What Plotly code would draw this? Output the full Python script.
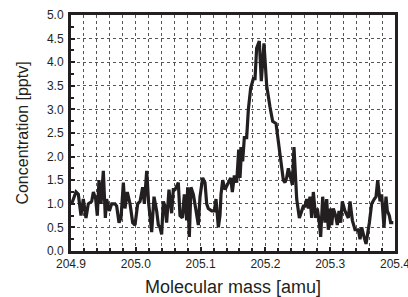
import plotly.graph_objects as go

mass_amu = [
    204.9010, 204.9077, 204.9113, 204.9154, 204.9190, 204.9231, 204.9267, 204.9319, 204.9345, 204.9381,
    204.9406, 204.9432, 204.9463, 204.9499, 204.9530, 204.9550, 204.9592, 204.9628, 204.9679, 204.9705,
    204.9741, 204.9772, 204.9808, 204.9833, 204.9869, 204.9911, 204.9952, 204.9988, 205.0029, 205.0065,
    205.0106, 205.0132, 205.0168, 205.0199, 205.0245, 205.0281, 205.0322, 205.0348, 205.0373, 205.0399,
    205.0425, 205.0451, 205.0476, 205.0512, 205.0553, 205.0579, 205.0605, 205.0656, 205.0682, 205.0718,
    205.0749, 205.0785, 205.0800, 205.0826, 205.0852, 205.0888, 205.0924, 205.0965, 205.0991, 205.1032,
    205.1068, 205.1094, 205.1119, 205.1171, 205.1212, 205.1238, 205.1274, 205.1299, 205.1315, 205.1341,
    205.1377, 205.1428, 205.1464, 205.1490, 205.1521, 205.1557, 205.1588, 205.1608, 205.1634, 205.1649,
    205.1675, 205.1711, 205.1737, 205.1773, 205.1814, 205.1840, 205.1865, 205.1906, 205.1937, 205.1978,
    205.2020, 205.2071, 205.2112, 205.2164, 205.2225, 205.2277, 205.2302, 205.2328, 205.2354, 205.2380,
    205.2416, 205.2441, 205.2483, 205.2524, 205.2560, 205.2585, 205.2611, 205.2637, 205.2663, 205.2688,
    205.2714, 205.2740, 205.2776, 205.2801, 205.2832, 205.2853, 205.2884, 205.2920, 205.2946, 205.2971,
    205.2997, 205.3023, 205.3048, 205.3084, 205.3110, 205.3136, 205.3162, 205.3187, 205.3228, 205.3280,
    205.3306, 205.3342, 205.3383, 205.3434, 205.3460, 205.3486, 205.3522, 205.3553, 205.3604, 205.3640,
    205.3681, 205.3707, 205.3733, 205.3769, 205.3794, 205.3830, 205.3861, 205.3882, 205.3913, 205.3933,
    205.3974,
]

concentration_pptv = [
    1.00, 1.25, 1.20, 0.75, 1.10, 0.70, 1.00, 1.05, 1.25, 1.10,
    0.75, 1.50, 1.00, 1.70, 0.70, 1.10, 0.85, 1.00, 1.00, 0.95,
    0.60, 0.70, 1.45, 0.90, 1.25, 1.00, 0.60, 0.55, 1.00, 1.05,
    1.35, 1.00, 1.70, 1.00, 0.40, 1.15, 0.85, 0.55, 0.50, 0.35,
    1.05, 0.95, 0.60, 1.30, 0.80, 1.30, 1.30, 1.45, 0.75, 0.70,
    1.20, 0.65, 1.35, 0.30, 1.35, 1.20, 0.90, 0.55, 1.15, 1.55,
    1.45, 1.00, 0.90, 0.85, 0.85, 1.10, 0.50, 0.75, 1.20, 1.50,
    1.30, 1.45, 1.55, 1.25, 1.60, 1.45, 2.15, 1.55, 2.20, 1.90,
    2.40, 2.40, 3.00, 3.45, 3.65, 3.65, 4.30, 4.45, 3.60, 4.40,
    3.50, 3.05, 2.75, 2.70, 2.00, 1.50, 1.45, 1.55, 1.75, 1.60,
    1.40, 2.20, 1.10, 0.70, 0.85, 0.95, 0.95, 1.10, 0.90, 1.15,
    0.70, 1.25, 0.70, 0.90, 0.60, 0.30, 1.15, 0.60, 1.10, 0.45,
    0.90, 0.55, 0.90, 0.75, 0.55, 0.85, 0.60, 1.05, 0.85, 0.70,
    1.05, 0.65, 0.45, 0.45, 0.25, 0.50, 0.30, 0.15, 0.60, 1.00,
    1.10, 1.15, 1.50, 1.05, 1.20, 0.50, 1.15, 0.85, 0.75, 0.60,
    0.60,
]

x_tick_vals = [204.9, 205.0, 205.1, 205.2, 205.3, 205.4]
y_tick_vals = [0.0, 0.5, 1.0, 1.5, 2.0, 2.5, 3.0, 3.5, 4.0, 4.5, 5.0]

ink = "#231f20"
grid = "#555555"
font_family = "Liberation Sans, Arial, sans-serif"

fig = go.Figure()
fig.add_trace(go.Scatter(
    x=mass_amu, y=concentration_pptv, mode="lines",
    line=dict(color=ink, width=3.2), showlegend=False, hoverinfo="skip",
))

fig.update_layout(
    width=408, height=297,
    margin=dict(l=71, r=13, t=15, b=46),
    paper_bgcolor="white", plot_bgcolor="white",
    font=dict(family=font_family, color=ink, size=12),
)

fig.update_xaxes(
    range=[204.9, 205.4], tickvals=x_tick_vals, tickformat=".1f",
    automargin=False, ticklabeloverflow="allow",
    showline=True, linecolor=ink, linewidth=3, mirror=True,
    ticks="inside", ticklen=4, tickwidth=2, tickcolor=ink,
    showgrid=True, gridcolor=grid, gridwidth=1, griddash="dot",
    zeroline=False,
    minor=dict(dtick=0.02, tick0=204.9, showgrid=True, gridcolor=grid, gridwidth=1,
               griddash="dot", ticks="inside", ticklen=3, tickwidth=2, tickcolor=ink),
    tickfont=dict(size=12, color=ink),
    title=dict(text="Molecular mass [amu]", font=dict(size=18, color=ink), standoff=10),
)

fig.update_yaxes(
    range=[0, 5], tickvals=y_tick_vals, tickformat=".1f",
    automargin=False, ticklabelstandoff=2,
    showline=True, linecolor=ink, linewidth=3, mirror=True,
    ticks="inside", ticklen=4, tickwidth=2, tickcolor=ink,
    showgrid=True, gridcolor=grid, gridwidth=1, griddash="dot",
    zeroline=False,
    minor=dict(dtick=0.25, tick0=0, showgrid=False, ticks="inside", ticklen=3,
               tickwidth=2, tickcolor=ink),
    tickfont=dict(size=12, color=ink),
    title=dict(text="Concentration [pptv]", font=dict(size=16, color=ink), standoff=15),
)

fig.write_html(
    "out.html",
    config={"displayModeBar": False, "staticPlot": True},
    post_script="document.body.style.margin='0';document.body.style.padding='0';",
)
